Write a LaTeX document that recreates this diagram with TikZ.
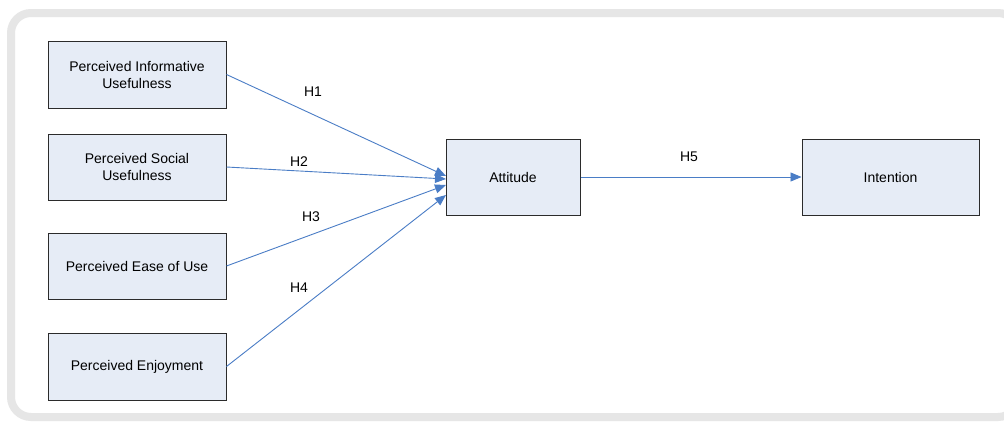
\documentclass[tikz,border=0pt]{standalone}
\usepackage{fontspec}
\setmainfont{Liberation Sans}
\usetikzlibrary{arrows.meta}
\definecolor{boxfill}{HTML}{E6ECF6}
\definecolor{boxline}{HTML}{2B2B2B}
\definecolor{arrowc}{HTML}{4A7DC6}
\definecolor{framec}{HTML}{E6E6E6}
\tikzset{
  cbox/.style={draw=boxline, fill=boxfill, line width=1pt, align=center,
    font=\fontsize{14}{17}\selectfont, inner sep=0pt},
  link/.style={draw=arrowc, line width=0.9pt, -{Triangle[length=11pt,width=9pt]}},
  hlabel/.style={font=\fontsize{14}{17}\selectfont, inner sep=0pt}
}
\begin{document}
\begin{tikzpicture}[x=1pt,y=-1pt]
\useasboundingbox (0,0) rectangle (1004,423);
\clip (0,0) rectangle (1004,423);
\fill[white] (0,0) rectangle (1004,423);
\draw[framec, line width=8pt, rounded corners=20pt] (11,13) rectangle (1018,417);
\node[cbox, minimum width=178pt, minimum height=67pt] (piu) at (137,74.5) {Perceived Informative\\Usefulness};
\node[cbox, minimum width=178pt, minimum height=66pt] (psu) at (137,167) {Perceived Social\\Usefulness};
\node[cbox, minimum width=178pt, minimum height=66pt] (peu) at (137,266) {Perceived Ease of Use};
\node[cbox, minimum width=178pt, minimum height=67pt] (pe) at (137,366.5) {Perceived Enjoyment};
\node[cbox, minimum width=134pt, minimum height=76pt] (att) at (513,177) {Attitude};
\node[cbox, minimum width=177pt, minimum height=76pt] (int) at (890.5,177) {Intention};
\coordinate (a1) at (446,176);
\coordinate (a2) at (446,179);
\coordinate (a3) at (446,185);
\coordinate (a4) at (446,195);
\draw[link] (piu.east) -- (a1);
\draw[link] (psu.east) -- (a2);
\draw[link] (peu.east) -- (a3);
\draw[link] (pe.east) -- (a4);
\draw[link] (att.east) -- (int.west);
\node[hlabel] (h1) at (313,92) {H1};
\node[hlabel] (h2) at (299,162) {H2};
\node[hlabel] (h3) at (311,217) {H3};
\node[hlabel] (h4) at (299,288) {H4};
\node[hlabel] (h5) at (689,157) {H5};
\end{tikzpicture}
\end{document}
